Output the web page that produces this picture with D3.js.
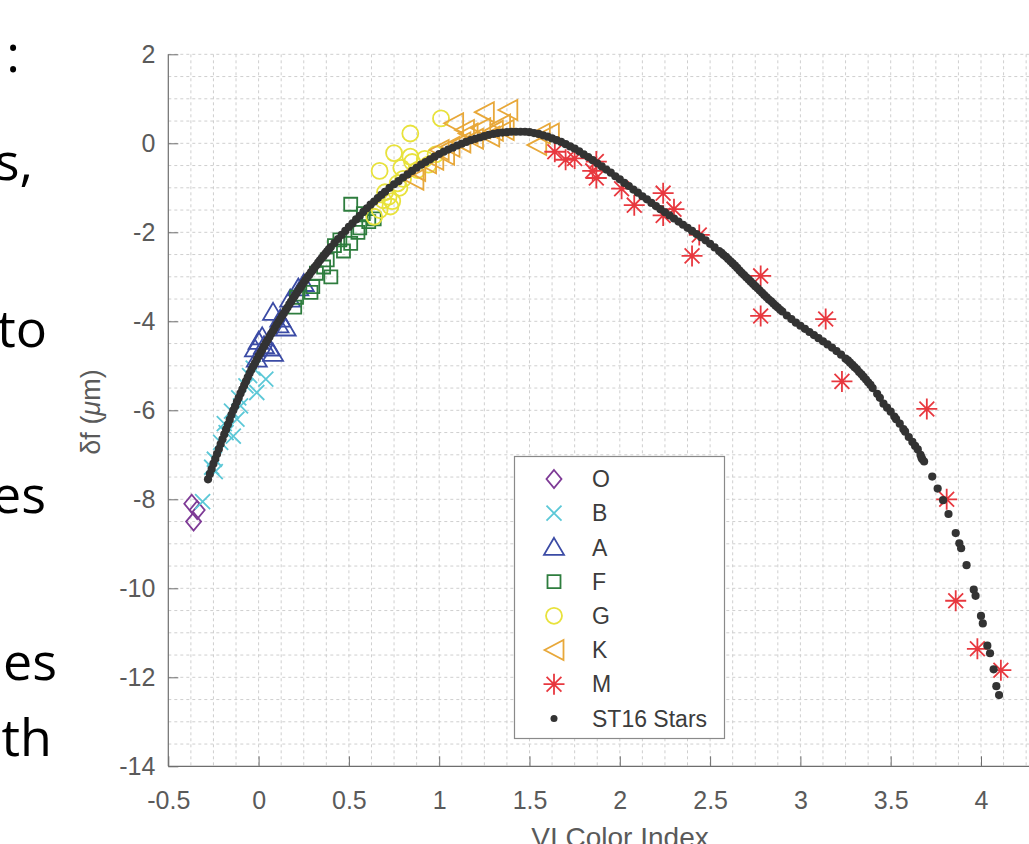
<!DOCTYPE html>
<html>
<head>
<meta charset="utf-8">
<script src="https://cdn.jsdelivr.net/npm/d3@7"></script>
<style>
  html, body { margin: 0; padding: 0; background: #fff; }
  svg { display: block; }
</style>
</head>
<body>
<svg id="chart" width="1029" height="844"></svg>
<script>
// ---------- DATA ----------
const xTicks = [-0.5, 0, 0.5, 1, 1.5, 2, 2.5, 3, 3.5, 4];
const yTicks = [-14, -12, -10, -8, -6, -4, -2, 0, 2];
const seriesNames = ["O", "B", "A", "F", "G", "K", "M", "ST16 Stars"];
const slideText = [":", "s,", "to", "es", "es", "th"];

const dataO = [[-0.37,-8.10],[-0.34,-8.24],[-0.36,-8.50]];
const dataB = [[-0.31,-8.05],[-0.26,-7.28],[-0.24,-7.38],[-0.245,-7.10],[-0.21,-6.72],[-0.18,-6.50],
  [-0.14,-6.58],[-0.15,-6.02],[-0.12,-6.20],[-0.11,-5.72],[-0.10,-5.90],[-0.07,-5.45],[-0.05,-5.22],
  [-0.01,-5.60],[0.04,-5.30],[-0.03,-5.05],[-0.19,-6.30]];
const dataA = [[0.08,-3.80],[0.11,-4.08],[0.15,-4.15],[0.00,-4.45],[0.02,-4.35],[0.08,-4.72],[-0.01,-4.85],
  [0.03,-4.55],[0.175,-3.50],[0.22,-3.25],[0.25,-3.15],[0.06,-4.60],[0.12,-3.95],[-0.02,-4.62]];
const dataF = [[0.51,-1.37],[0.58,-1.58],[0.61,-1.76],[0.64,-1.70],[0.45,-2.17],[0.42,-2.30],[0.51,-2.25],
  [0.55,-2.00],[0.38,-2.62],[0.36,-2.78],[0.40,-3.00],[0.32,-2.92],[0.30,-3.22],[0.29,-3.35],[0.20,-3.68],
  [0.21,-3.46],[0.47,-2.42],[0.56,-1.90]];
const dataG = [[1.01,0.56],[0.84,0.22],[0.75,-0.22],[0.67,-0.62],[0.84,-0.30],[0.85,-0.42],[0.94,-0.48],
  [0.79,-0.55],[0.80,-0.80],[0.78,-1.00],[0.77,-0.90],[0.72,-1.20],[0.69,-1.28],[0.67,-1.50],[0.64,-1.65],
  [0.73,-1.42],[0.70,-1.10],[0.88,-0.60],[0.92,-0.35],[0.98,-0.25],[0.74,-1.30]];
const dataK = [[1.08,0.45],[1.25,0.70],[1.38,0.75],[1.34,0.42],[1.23,0.34],[1.16,0.22],[1.12,0.02],
  [1.06,-0.08],[1.03,-0.26],[0.97,-0.37],[0.87,-0.62],[0.86,-0.82],[1.56,0.22],[1.61,0.22],[1.54,-0.04],
  [1.19,0.10],[1.30,0.28],[1.36,0.30],[1.28,0.15],[1.14,0.30],[1.00,-0.15],[0.93,-0.45]];
const dataM = [[1.64,-0.19],[1.70,-0.37],[1.75,-0.34],[1.87,-0.41],[1.87,-0.78],[1.85,-0.62],[2.01,-1.02],
  [2.08,-1.39],[2.24,-1.12],[2.30,-1.48],[2.24,-1.62],[2.40,-2.53],[2.44,-2.06],[2.78,-2.98],[2.78,-3.88],
  [3.14,-3.95],[3.23,-5.35],[3.70,-5.97],[3.81,-8.00],[3.86,-10.28],[3.98,-11.36],[4.11,-11.84]];
const dataST16 = [
  [-0.28,-7.55],[-0.27,-7.43],[-0.26,-7.32],[-0.25,-7.20],[-0.24,-7.09],[-0.23,-6.98],[-0.22,-6.87],
  [-0.21,-6.76],[-0.20,-6.65],[-0.19,-6.54],[-0.18,-6.43],[-0.17,-6.32],[-0.16,-6.21],[-0.15,-6.10],
  [-0.14,-6.00],[-0.13,-5.91],[-0.12,-5.81],[-0.11,-5.72],[-0.10,-5.62],[-0.09,-5.53],[-0.08,-5.44],
  [-0.07,-5.35],[-0.06,-5.26],[-0.05,-5.17],[-0.04,-5.09],[-0.03,-5.01],[-0.02,-4.94],[-0.01,-4.86],
  [0.00,-4.78],[0.01,-4.71],[0.02,-4.64],[0.03,-4.56],[0.04,-4.49],[0.05,-4.42],[0.06,-4.35],[0.07,-4.28],
  [0.08,-4.22],[0.09,-4.15],[0.10,-4.08],[0.11,-4.01],[0.12,-3.95],[0.13,-3.88],[0.14,-3.82],[0.15,-3.75],
  [0.16,-3.69],[0.17,-3.62],[0.18,-3.56],[0.19,-3.49],[0.20,-3.43],[0.21,-3.37],[0.22,-3.31],[0.23,-3.25],
  [0.24,-3.19],[0.25,-3.13],[0.26,-3.07],[0.27,-3.01],[0.28,-2.96],[0.29,-2.90],[0.30,-2.85],[0.31,-2.79],
  [0.32,-2.74],[0.33,-2.68],[0.34,-2.63],[0.35,-2.58],[0.36,-2.53],[0.37,-2.48],[0.38,-2.43],[0.39,-2.38],
  [0.40,-2.33],[0.42,-2.24],[0.44,-2.15],[0.46,-2.06],[0.48,-1.97],[0.50,-1.88],[0.52,-1.80],
  [0.54,-1.71],[0.56,-1.63],[0.58,-1.54],[0.60,-1.46],[0.62,-1.38],[0.64,-1.31],[0.66,-1.23],[0.68,-1.16],
  [0.70,-1.09],[0.725,-1.00],[0.75,-0.92],[0.775,-0.85],[0.80,-0.77],[0.825,-0.70],[0.85,-0.62],
  [0.875,-0.55],[0.90,-0.48],[0.925,-0.42],[0.95,-0.36],[0.975,-0.30],[1.00,-0.24],[1.025,-0.19],
  [1.05,-0.14],[1.075,-0.10],[1.10,-0.05],[1.125,-0.01],[1.15,0.03],[1.175,0.07],[1.20,0.10],[1.225,0.13],
  [1.25,0.16],[1.275,0.19],[1.30,0.21],[1.325,0.23],[1.35,0.24],[1.375,0.25],[1.40,0.26],[1.425,0.26],
  [1.45,0.26],[1.475,0.26],[1.50,0.25],[1.525,0.23],[1.55,0.21],[1.575,0.18],[1.60,0.15],[1.625,0.11],
  [1.65,0.07],[1.675,0.03],[1.70,-0.02],[1.725,-0.07],[1.75,-0.12],[1.775,-0.18],[1.80,-0.25],[1.825,-0.31],
  [1.85,-0.38],[1.875,-0.45],[1.90,-0.52],[1.925,-0.59],[1.95,-0.66],[1.975,-0.74],[2.00,-0.81],
  [2.025,-0.89],[2.05,-0.96],[2.075,-1.04],[2.10,-1.11],[2.125,-1.19],[2.15,-1.26],[2.175,-1.34],
  [2.20,-1.41],[2.225,-1.48],[2.25,-1.55],[2.275,-1.62],[2.30,-1.69],[2.325,-1.76],[2.35,-1.83],
  [2.375,-1.90],[2.40,-1.97],[2.425,-2.04],[2.45,-2.11],[2.475,-2.18],[2.50,-2.26],[2.525,-2.34],
  [2.55,-2.42],[2.563,-2.46],[2.575,-2.51],[2.588,-2.55],[2.60,-2.60],[2.613,-2.65],[2.625,-2.70],
  [2.638,-2.75],[2.65,-2.80],[2.663,-2.86],[2.675,-2.91],[2.688,-2.96],[2.70,-3.01],[2.713,-3.06],
  [2.725,-3.11],[2.738,-3.16],[2.75,-3.21],[2.763,-3.26],[2.775,-3.31],[2.788,-3.36],[2.80,-3.41],
  [2.813,-3.46],[2.825,-3.51],[2.838,-3.55],[2.85,-3.60],[2.863,-3.65],[2.875,-3.69],[2.888,-3.74],
  [2.90,-3.78],[2.925,-3.87],[2.95,-3.95],[2.975,-4.03],[3.00,-4.10],[3.025,-4.17],[3.05,-4.24],
  [3.075,-4.31],[3.10,-4.38],[3.125,-4.45],[3.15,-4.52],[3.175,-4.59],[3.20,-4.67],[3.225,-4.75],
  [3.25,-4.84],[3.263,-4.88],[3.275,-4.93],[3.288,-4.98],[3.30,-5.03],[3.313,-5.08],[3.325,-5.14],
  [3.338,-5.19],[3.35,-5.25],[3.363,-5.31],[3.375,-5.37],[3.388,-5.43],[3.40,-5.50],
  [3.425,-5.63],[3.44,-5.72],[3.46,-5.85],[3.48,-5.94],[3.50,-6.03],[3.52,-6.14],[3.53,-6.20],[3.55,-6.30],
  [3.57,-6.42],[3.58,-6.48],[3.60,-6.60],[3.62,-6.71],[3.635,-6.80],[3.65,-6.88],[3.665,-7.00],[3.67,-7.06],
  [3.675,-7.10],[3.685,-7.15],[3.73,-7.49],[3.76,-7.76],[3.79,-8.02],[3.82,-8.33],[3.86,-8.76],[3.88,-8.99],
  [3.89,-9.10],[3.92,-9.48],[3.96,-10.03],[3.97,-10.17],[4.00,-10.62],[4.01,-10.79],[4.035,-11.29],
  [4.05,-11.46],[4.07,-11.82],[4.085,-12.20],[4.10,-12.40]
];

// ---------- STYLE ----------
const colors = {O:"#7E3A96", B:"#5CC8D7", A:"#3B4BA5", F:"#2E7D3E", G:"#E8E23C", K:"#E8A83A", M:"#E8383F", ST:"#333333"};
const svg = d3.select("#chart");
const W = 1029, H = 844;

const x = d3.scaleLinear().domain([-0.5, 4.5]).range([168.3, 168.3 + 5 * 180.6]);
const y = d3.scaleLinear().domain([-14, 2]).range([766.3, 54.3]);

// slide text fragments at left
const slideX = [20, 33, 47, 46, 57, 52];
const slideY = [72, 180, 347, 513, 680, 756];
svg.append("g").selectAll("text").data(slideText).join("text")
  .attr("x", (d,i) => slideX[i]).attr("y", (d,i) => slideY[i])
  .attr("text-anchor", "end")
  .style("font-family", "'Open Sans', 'Noto Sans', sans-serif")
  .style("font-size", "52px").style("fill", "#000")
  .text(d => d);

svg.append("defs").append("clipPath").attr("id","plotclip")
  .append("rect").attr("x", x(-0.5)).attr("y", y(2) - 12).attr("width", W - x(-0.5)).attr("height", y(-14) - y(2) + 12);

// grid
const gx = d3.range(-0.5, 4.5001, 0.125);
const gy = d3.range(-14, 2.0001, 0.5);
const grid = svg.append("g").attr("stroke", "#cfcfcf").attr("stroke-width", 1).attr("stroke-dasharray", "3,3");
grid.selectAll("line.v").data(gx.slice(1)).join("line").attr("class","v")
  .attr("x1", d => x(d)).attr("x2", d => x(d)).attr("y1", y(2)).attr("y2", y(-14));
grid.selectAll("line.h").data(gy.slice(1)).join("line").attr("class","h")
  .attr("x1", x(-0.5)).attr("x2", W).attr("y1", d => y(d)).attr("y2", d => y(d));

// axes
const axisColor = "#6e6e6e";
const labelFont = "'Liberation Sans', Arial, Helvetica, sans-serif";
const yAxis = svg.append("g").attr("transform", `translate(${x(-0.5)},0)`)
  .call(d3.axisLeft(y).tickValues(yTicks).tickFormat(d => String(d)).tickSize(-10).tickPadding(13));
const xAxis = svg.append("g").attr("transform", `translate(0,${y(-14)})`)
  .call(d3.axisBottom(x).tickValues(xTicks).tickFormat(d => String(d)).tickSize(-10).tickPadding(25));
[yAxis, xAxis].forEach(a => {
  a.select(".domain").remove();
  a.selectAll(".tick line").attr("stroke", axisColor).attr("stroke-width", 1);
  a.selectAll(".tick text").style("font-family", labelFont).style("font-size", "25px").style("fill", "#5a5a5a");
});
svg.append("line").attr("x1", x(-0.5)).attr("x2", x(-0.5)).attr("y1", y(2)).attr("y2", y(-14))
  .attr("stroke", axisColor).attr("stroke-width", 1.2);
svg.append("line").attr("x1", x(-0.5)).attr("x2", W).attr("y1", y(-14)).attr("y2", y(-14))
  .attr("stroke", axisColor).attr("stroke-width", 1.2);

// axis labels
svg.append("text").attr("transform", `translate(100,${412}) rotate(-90)`)
  .attr("text-anchor", "middle")
  .style("font-family", labelFont).style("font-size", "27px").style("fill", "#5a5a5a")
  .html('δf (<tspan font-style="italic">μ</tspan>m)');
svg.append("text").attr("x", 620).attr("y", 847).attr("text-anchor", "middle")
  .style("font-family", labelFont).style("font-size", "28px").style("fill", "#5a5a5a")
  .text("VI Color Index");

// marker shapes
const circlePath = (() => { const p = d3.path(); p.arc(0,0,8,0,2*Math.PI); p.closePath(); return p.toString(); })();
const shapes = {
  O: "M0,-9L7.5,0L0,9L-7.5,0Z",
  B: "M-7.5,-7.5L7.5,7.5M-7.5,7.5L7.5,-7.5",
  A: "M0,-9.5L10,7.5L-10,7.5Z",
  F: "M-6.5,-6.5H6.5V6.5H-6.5Z",
  G: circlePath,
  K: "M-9.5,0L9.5,-10L9.5,10Z",
  M: "M0,-10.5V10.5M-10.5,0H10.5M-7.4,-7.4L7.4,7.4M-7.4,7.4L7.4,-7.4"
};
const seriesData = {O:dataO, B:dataB, A:dataA, F:dataF, G:dataG, K:dataK, M:dataM};

const plot = svg.append("g").attr("clip-path", "url(#plotclip)");
["O","B","A","F","G","K","M"].forEach(k => {
  plot.append("g").selectAll("path").data(seriesData[k]).join("path")
    .attr("transform", d => `translate(${x(d[0])},${y(d[1])})`)
    .attr("d", shapes[k])
    .attr("fill", "none").attr("stroke", colors[k]).attr("stroke-width", 1.8);
});
plot.append("g").selectAll("circle").data(dataST16).join("circle")
  .attr("cx", d => x(d[0])).attr("cy", d => y(d[1])).attr("r", 4.1)
  .attr("fill", colors.ST);

// legend
const lg = svg.append("g");
lg.append("rect").attr("x", 514.5).attr("y", 456.5).attr("width", 210).attr("height", 282)
  .attr("fill", "#fff").attr("stroke", "#8a8a8a").attr("stroke-width", 1.2);
const rowY = i => 479 + i * 34.2;
const keys = ["O","B","A","F","G","K","M","ST"];
seriesNames.forEach((name, i) => {
  const key = keys[i];
  if (key === "ST") {
    lg.append("circle").attr("cx", 554).attr("cy", rowY(i)).attr("r", 3.5).attr("fill", colors.ST);
  } else {
    lg.append("path").attr("transform", `translate(554,${rowY(i)})`).attr("d", shapes[key])
      .attr("fill", "none").attr("stroke", colors[key]).attr("stroke-width", 1.8);
  }
  lg.append("text").attr("x", 592).attr("y", rowY(i)).attr("dy", "0.36em")
    .style("font-family", labelFont).style("font-size", "23px").style("fill", "#3c3c3c")
    .text(name);
});
</script>
</body>
</html>
